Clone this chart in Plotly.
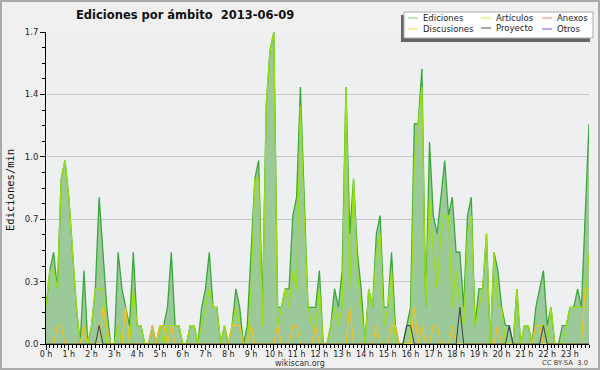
import plotly.graph_objects as go

# 10-minute bins, 00:00 .. 23:50 (index i -> hour i/6)
ediciones = [0.2,0.4,0.5,0.3,0.9,1.0,0.8,0.5,0.2,0,0.4,0,0.1,0.3,0.8,0.5,0.2,0,0,0.5,0.3,0.2,0.1,0.5,0.1,
             0.1,0,0,0.1,0,0.1,0.1,0.2,0.5,0.1,0.1,0,0,0.1,0.1,0,0.2,0.3,0.5,0.2,0.2,0,0.1,0,
             0.1,0.3,0.2,0,0.1,0.5,0.9,1.0,0.2,1.3,1.6,1.7,0.2,0.2,0.3,0.3,0.7,0.8,1.4,0.8,0.2,0.2,0.2,0.4,
             0,0,0.1,0.3,0.2,0.4,1.4,0.6,0.9,0.5,0.3,0,0.3,0.2,0.6,0.7,0.2,0.2,0.5,0.1,0,0,0.1,0.2,
             1.2,1.2,1.5,0.2,1.1,0.7,0.6,0.8,1.0,0.7,0.8,0.5,0.5,0.2,0.7,0.8,0.1,0.3,0.3,0.6,0,0.5,0.4,0.2,
             0.1,0.1,0,0.3,0,0.1,0.1,0,0.2,0.3,0.4,0.1,0.2,0,0,0.1,0.1,0.2,0.2,0.3,0.2,0.7,1.2]
articulos = [0.2,0.4,0.4,0.3,0.9,1.0,0.8,0.5,0.2,0,0.1,0,0.1,0.3,0.3,0.3,0,0,0,0.1,0,0,0,0.3,0.1,
             0.1,0,0,0,0,0.1,0,0.1,0.1,0.1,0.1,0,0,0.1,0.1,0,0.1,0.2,0.3,0.2,0.2,0,0.1,0,
             0.1,0.2,0.1,0,0,0.3,0.9,0.9,0.1,1.3,1.6,1.7,0.1,0.2,0.3,0.2,0.4,0.3,1.3,0.7,0.2,0.1,0.1,0.3,
             0,0,0.1,0.2,0.1,0.2,1.4,0.3,0.9,0.4,0.2,0,0.3,0.2,0.5,0.6,0.1,0.2,0.4,0,0,0,0,0,
             1.0,1.2,1.4,0.2,0.8,0.5,0.3,0.6,0.7,0.7,0.2,0.4,0.2,0.1,0.6,0.7,0.1,0.2,0.3,0.6,0,0.5,0.2,0.2,
             0,0,0,0.3,0,0.1,0.1,0,0.1,0.1,0.1,0,0.2,0,0,0,0.1,0.2,0.2,0.2,0.2,0.2,0.5]
discusiones = [0,0,0,0.1,0.1,0,0,0,0,0,0.1,0,0,0,0,0.2,0.1,0,0,0,0,0.2,0,0,0,
               0,0,0,0.1,0,0.1,0.1,0,0.1,0,0,0,0,0,0,0,0,0,0,0,0,0,0,0,
               0.1,0.1,0.1,0,0,0.1,0,0,0,0,0,0,0.1,0,0,0,0.1,0.1,0,0,0,0,0.1,0,
               0,0,0,0,0,0,0,0.2,0,0,0,0,0,0,0.1,0,0,0,0.1,0.1,0,0,0,0,
               0.2,0,0.1,0,0,0.1,0.1,0,0,0,0.1,0,0,0,0,0,0,0,0,0,0,0,0.1,0,
               0,0,0,0,0,0,0,0,0.1,0.1,0,0,0,0,0,0,0,0,0,0,0,0.3,0.3]
proyecto = [0]*14 + [0.1] + [0]*80 + [0.1,0.1] + [0]*12 + [0.2] + [0]*12 + [0.1] + [0]*8 + [0.1] + [0]*12
anexos = [0]*144
otros = [0]*144

hours = [i / 6 for i in range(144)]
hour_labels = [f"{h} h" for h in range(24)]
ytick_vals = [0, 0.34, 0.68, 1.02, 1.36, 1.7]
ytick_text = ["0.0", "0.3", "0.7", "1.0", "1.4", "1.7"]

fig = go.Figure()
fig.add_trace(go.Scatter(x=hours, y=anexos, mode="lines", line=dict(color="#f07040", width=1), name="Anexos"))
fig.add_trace(go.Scatter(x=hours, y=otros, mode="lines", line=dict(color="#9040f0", width=1), name="Otros"))
fig.add_trace(go.Scatter(x=hours, y=ediciones, mode="lines", fill="tozeroy", fillcolor="#9cc99a",
                         line=dict(color="#3aa83a", width=1.3), name="Ediciones"))
fig.add_trace(go.Scatter(x=hours, y=articulos, mode="lines", line=dict(color="#99e010", width=1.3), name="Artículos"))
fig.add_trace(go.Scatter(x=hours, y=discusiones, mode="lines", line=dict(color="#f2c020", width=1.2), name="Discusiones"))
fig.add_trace(go.Scatter(x=hours, y=proyecto, mode="lines", line=dict(color="#404040", width=1), name="Proyecto"))

L, R, T, B = 46, 11, 32, 26
W, H = 600 - L - R, 370 - T - B

fig.update_layout(
    width=600, height=370,
    margin=dict(l=L, r=R, t=T, b=B, pad=0),
    paper_bgcolor="#f0f0f0", plot_bgcolor="#eeeff1",
    showlegend=False,
    font=dict(family="DejaVu Sans", size=9, color="#222"),
)
fig.update_xaxes(range=[0, 143/6], tickvals=list(range(24)), ticktext=hour_labels,
                 showgrid=False, zeroline=False, showline=True, linecolor="black", linewidth=1,
                 ticks="outside", ticklen=5, tickcolor="black", ticklabelstandoff=-3,
                 tickfont=dict(family="DejaVu Sans", size=8, color="#222"),
                 minor=dict(dtick=1/6, tick0=0, ticks="outside", ticklen=3, tickcolor="black"))
fig.update_yaxes(range=[0, 1.7], tickvals=ytick_vals, ticktext=ytick_text,
                 showgrid=True, gridcolor="#c8c8c8", gridwidth=1, zeroline=False,
                 showline=True, linecolor="black", linewidth=1,
                 ticks="outside", ticklen=5, tickcolor="black",
                 tickfont=dict(family="DejaVu Sans", size=8.5, color="#222"),
                 minor=dict(tickvals=[k*0.085 for k in range(21)], ticks="outside", ticklen=3,
                            tickcolor="black", showgrid=False))

def px(xp):
    return (xp - L) / W
def py(yp):
    return (370 - B - yp) / H

shapes = []
# outer border
shapes.append(dict(type="rect", xref="paper", yref="paper", x0=px(1), x1=px(599), y0=py(369), y1=py(1),
                   line=dict(color="#aaaaaa", width=2)))
# legend box with shadow (offset down-left)
shapes.append(dict(type="rect", xref="paper", yref="paper", x0=px(401), x1=px(590), y0=py(42), y1=py(15),
                   fillcolor="#666666", line=dict(width=0)))
shapes.append(dict(type="rect", xref="paper", yref="paper", x0=px(404), x1=px(593), y0=py(38), y1=py(12),
                   fillcolor="#ffffff", line=dict(color="#aaaaaa", width=1)))
items = [("Ediciones", "#80d080", 408, 18), ("Artículos", "#c0f040", 481, 18), ("Anexos", "#f08050", 542, 18),
         ("Discusiones", "#f8d040", 408, 29), ("Proyecto", "#505050", 481, 28), ("Otros", "#9040f0", 542, 29)]
for name, col, x0, yy in items:
    shapes.append(dict(type="line", xref="paper", yref="paper", x0=px(x0), x1=px(x0 + 10), y0=py(yy), y1=py(yy),
                       line=dict(color=col, width=1)))
    fig.add_annotation(text=name, xref="paper", yref="paper", x=px(x0 + 13), y=py(yy), showarrow=False,
                       xanchor="left", yanchor="middle", font=dict(family="DejaVu Sans", size=8.5, color="#222"))
fig.update_layout(shapes=shapes)

# title and footer
fig.add_annotation(text="<b>Ediciones por ámbito  2013-06-09</b>", xref="paper", yref="paper",
                   x=px(185), y=py(15), showarrow=False, xanchor="center", yanchor="middle",
                   font=dict(family="DejaVu Sans", size=11.5, color="#111"))
fig.add_annotation(text="Ediciones/min", xref="paper", yref="paper", x=px(10), y=py(190),
                   textangle=-90, showarrow=False, xanchor="center", yanchor="middle",
                   font=dict(family="DejaVu Sans Mono", size=10.5, color="#111"))
fig.add_annotation(text="wikiscan.org", xref="paper", yref="paper", x=px(300), y=py(363),
                   showarrow=False, xanchor="center", yanchor="middle",
                   font=dict(family="DejaVu Sans", size=8, color="#333"))
fig.add_annotation(text="CC BY-SA  3.0", xref="paper", yref="paper", x=px(590), y=py(363),
                   showarrow=False, xanchor="right", yanchor="middle",
                   font=dict(family="DejaVu Sans", size=6.8, color="#444"))

fig.write_html("out.html", config={"displayModeBar": False},
               post_script="document.body.style.margin='0px';document.body.style.overflow='hidden';")
